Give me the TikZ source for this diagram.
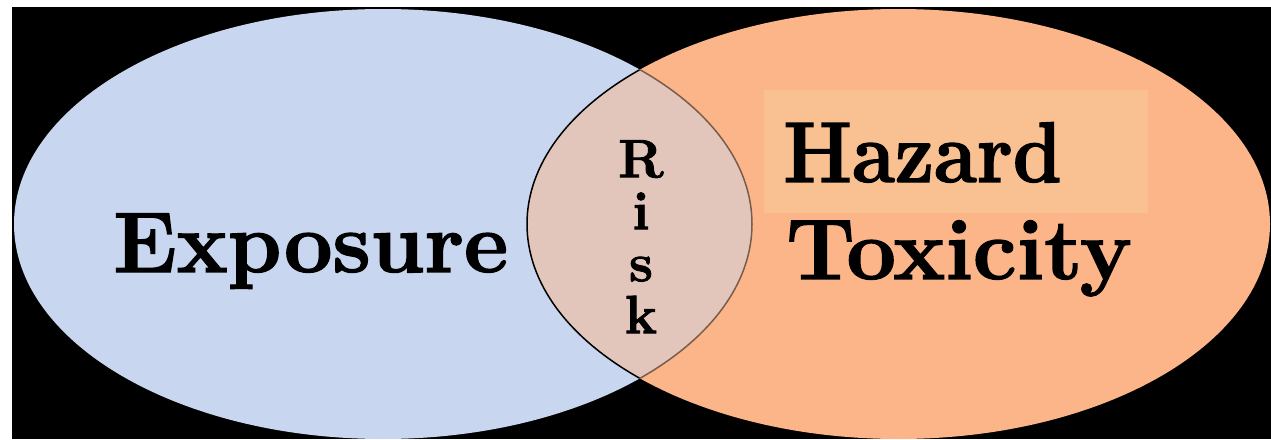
\documentclass[tikz,border=0pt]{standalone}
\usepackage{fontspec}
\setmainfont{Latin Modern Roman}[BoldFeatures={FakeBold=1.6}]
\usepackage{tikz}
\definecolor{exposureblue}{RGB}{200,214,239}
\definecolor{hazardorange}{RGB}{251,181,136}
\definecolor{riskbeige}{RGB}{226,198,187}
\definecolor{hazardbox}{RGB}{249,193,145}
\definecolor{rimbrown}{RGB}{122,92,74}
\tikzset{
  bigword/.style={anchor=base west, inner sep=0pt, text=black,
    font=\fontsize{86}{86}\selectfont\bfseries},
  riskword/.style={anchor=north, inner sep=0pt, align=center, text=black,
    font=\fontsize{54}{52}\selectfont\bfseries},
}
\begin{document}
\begin{tikzpicture}[x=1pt,y=-1pt]
  % canvas
  \useasboundingbox (0,0) rectangle (1271,439);
  \fill[white] (0,0) rectangle (1271,439);
  \fill[black] (12,7) rectangle (1271,439);

  % the two sets
  \fill[exposureblue] (383,224) ellipse [x radius=369, y radius=215];
  \fill[hazardorange] (898.5,224) ellipse [x radius=371.5, y radius=215];

  % overlap region
  \begin{scope}
    \clip (383,224) ellipse [x radius=369, y radius=215];
    \fill[riskbeige] (898.5,224) ellipse [x radius=371.5, y radius=215];
    \draw[black, line width=1.5pt] (898.5,224) ellipse [x radius=371.5, y radius=215];
  \end{scope}
  \begin{scope}
    \clip (898.5,224) ellipse [x radius=371.5, y radius=215];
    \draw[rimbrown, line width=1.5pt] (383,224) ellipse [x radius=369, y radius=215];
  \end{scope}

  % highlight behind the hazard label
  \fill[hazardbox] (764,90) rectangle (1148,213);

  % labels
  \node[bigword, xscale=1.0] (exposure) at (113,272) {Exposure};
  \node[bigword, xscale=0.91] (hazard) at (783,182) {Hazard};
  \node[bigword, xscale=1.02] (toxicity) at (786,279) {Toxicity};
  \node[riskword] (risk) at (641,140) {R\\i\\s\\k};
\end{tikzpicture}
\end{document}
